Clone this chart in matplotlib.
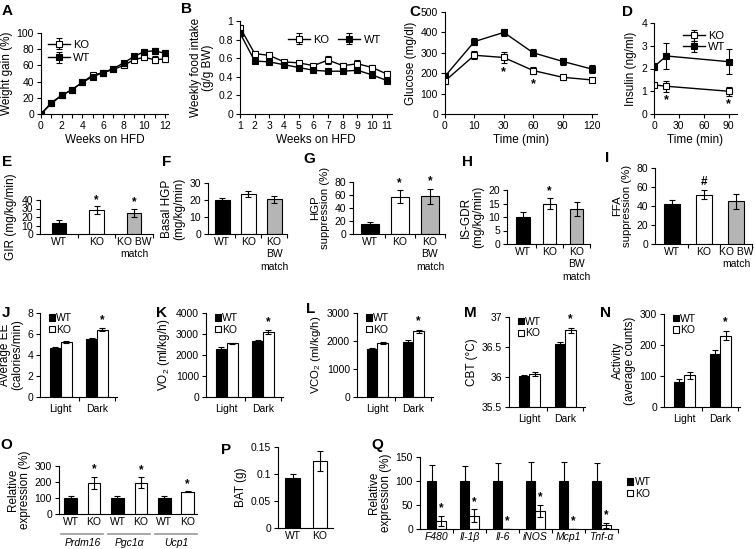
import numpy as np
import matplotlib
matplotlib.use("Agg")
import matplotlib.pyplot as plt
from matplotlib.transforms import blended_transform_factory

plt.rcParams['font.family'] = ['Liberation Sans', 'DejaVu Sans']
plt.rcParams['mathtext.fontset'] = 'custom'
plt.rcParams['mathtext.rm'] = 'Liberation Sans'
plt.rcParams['mathtext.it'] = 'Liberation Sans:italic'
plt.rcParams['axes.linewidth'] = 0.8
plt.rcParams['xtick.major.width'] = 0.8
plt.rcParams['ytick.major.width'] = 0.8
plt.rcParams['xtick.major.size'] = 3
plt.rcParams['ytick.major.size'] = 3
plt.rcParams['xtick.labelsize'] = 7.5
plt.rcParams['ytick.labelsize'] = 7.5
plt.rcParams['axes.labelsize'] = 8.5

# ---------------- data ----------------
# A: weight gain
weeks_a = list(range(13))
wg_ko = [0, 13, 23, 30, 39, 48, 51, 55, 60, 67, 70, 67, 68]
wg_ko_err = [0, 1.5, 1.5, 1.5, 2, 2, 2, 2, 2.5, 3, 3, 4, 4]
wg_wt = [0, 14, 23, 30, 39, 46, 51, 56, 63, 71, 77, 78, 75]
wg_wt_err = [0, 1.5, 1.5, 1.5, 2, 2, 2, 2, 2.5, 3, 3, 4, 4]

# B: weekly food intake
weeks_b = list(range(1, 12))
fi_ko = [0.93, 0.65, 0.63, 0.56, 0.55, 0.52, 0.58, 0.52, 0.54, 0.50, 0.43]
fi_ko_err = [0.03, 0.03, 0.03, 0.02, 0.02, 0.02, 0.04, 0.03, 0.04, 0.03, 0.03]
fi_wt = [0.87, 0.57, 0.56, 0.53, 0.50, 0.47, 0.46, 0.46, 0.47, 0.42, 0.36]
fi_wt_err = [0.03, 0.02, 0.02, 0.02, 0.02, 0.02, 0.02, 0.02, 0.02, 0.02, 0.02]

# C: glucose
time_c = ['0', '10', '30', '60', '90', '120']
glu_wt = [185, 355, 400, 300, 258, 220]
glu_wt_err = [15, 18, 18, 18, 18, 18]
glu_ko = [162, 288, 277, 213, 180, 167]
glu_ko_err = [12, 20, 25, 18, 12, 8]
glu_star = [False, False, True, True, False, False]

# D: insulin
time_d = [0, 15, 90]
ins_wt = [2.08, 2.55, 2.30]
ins_wt_err = [0.15, 0.55, 0.55]
ins_ko = [1.28, 1.22, 1.00]
ins_ko_err = [0.10, 0.25, 0.20]
ins_star = [False, True, True]

# E-I
groups3 = ['WT', 'KO', 'KO BW\nmatch']
groups3v = ['WT', 'KO', 'KO\nBW\nmatch']
gir = [12.5, 28, 25]; gir_err = [3.5, 4.5, 4.5]
hgp = [20, 23.5, 20.5]; hgp_err = [1, 2, 2]
hgps = [15, 57, 58]; hgps_err = [4, 10, 12]
isgdr = [10, 15, 13]; isgdr_err = [2, 2, 2.5]
ffa = [42, 52, 45]; ffa_err = [4, 5, 8]

# J-N
periods = ['Light', 'Dark']
ee_wt = [4.7, 5.5]; ee_wt_err = [0.1, 0.15]
ee_ko = [5.25, 6.4]; ee_ko_err = [0.12, 0.15]
vo2_wt = [2300, 2650]; vo2_wt_err = [60, 70]
vo2_ko = [2550, 3100]; vo2_ko_err = [40, 80]
vco2_wt = [1700, 1980]; vco2_wt_err = [60, 50]
vco2_ko = [1930, 2340]; vco2_ko_err = [40, 50]
cbt_wt = [36.01, 36.55]; cbt_wt_err = [0.02, 0.03]
cbt_ko = [36.05, 36.78]; cbt_ko_err = [0.03, 0.04]
act_wt = [80, 170]; act_wt_err = [10, 15]
act_ko = [102, 230]; act_ko_err = [12, 15]

# O
genes_o = ['Prdm16', 'Pgc1α', 'Ucp1']
o_wt = [100, 100, 100]; o_wt_err = [12, 10, 12]
o_ko = [195, 195, 140]; o_ko_err = [38, 35, 3]

# P
bat_groups = ['WT', 'KO']
bat = [0.093, 0.124]; bat_err = [0.007, 0.018]

# Q
genes_q = ['F480', 'Il-1β', 'Il-6', 'iNOS', 'Mcp1', 'Tnf-α']
q_wt = [100, 100, 100, 100, 100, 100]
q_wt_err = [33, 32, 37, 40, 40, 37]
q_ko = [17, 28, 1, 38, 1, 8]
q_ko_err = [11, 13, 0, 12, 0, 5]

# ---------------- layout ----------------
W, H = 755, 549
fig = plt.figure(figsize=(W / 100, H / 100), dpi=100)
fig.patch.set_facecolor('white')


def box(l, t, r, b):
    ax = fig.add_axes([l / W, 1 - b / H, (r - l) / W, (b - t) / H])
    ax.spines['top'].set_visible(False)
    ax.spines['right'].set_visible(False)
    ax.tick_params(direction='out', pad=2)
    return ax


def letter(x, y, s):
    fig.text(x / W, 1 - y / H, s, fontsize=11, fontweight='bold', va='top', ha='left')


GRAY = '#b5b5b5'
ekw = dict(elinewidth=0.8, capthick=0.8, ecolor='black')


def line_series(ax, x, y, e, face):
    return ax.errorbar(x, y, yerr=e, color='black', lw=1, marker='s', ms=4.5,
                       mfc=face, mec='black', mew=0.8, capsize=2.5, **ekw)


def between_ticks(ax, n):
    ax.set_xticks(np.arange(n) + 0.5, minor=True)
    ax.tick_params(axis='x', which='minor', length=3, width=0.8, direction='out')
    ax.tick_params(axis='x', which='major', length=0)

# A
ax = box(41, 33, 168, 114)
ka = line_series(ax, weeks_a, wg_ko, wg_ko_err, 'white')
wa = line_series(ax, weeks_a, wg_wt, wg_wt_err, 'black')
ax.set_xlim(0, 12.3); ax.set_ylim(0, 100)
ax.set_xticks(range(13)); ax.set_xticklabels([str(w) if w % 2 == 0 else '' for w in weeks_a])
ax.set_yticks(range(0, 101, 20))
ax.set_xlabel('Weeks on HFD', labelpad=2); ax.set_ylabel('Weight gain (%)', labelpad=3)
ax.legend([ka, wa], ['KO', 'WT'], loc='upper left', frameon=False, fontsize=8,
          handlelength=2, borderaxespad=0.2, handletextpad=0.3, labelspacing=0.3)
letter(2, 4, 'A')

# B
ax = box(240, 21, 392, 114)
kb = line_series(ax, weeks_b, fi_ko, fi_ko_err, 'white')
wb = line_series(ax, weeks_b, fi_wt, fi_wt_err, 'black')
ax.set_xlim(1, 11.35); ax.set_ylim(0, 1)
ax.set_xticks(weeks_b)
ax.set_yticks([0, 0.2, 0.4, 0.6, 0.8, 1]); ax.set_yticklabels(['0', '0.2', '0.4', '0.6', '0.8', '1'])
ax.set_xlabel('Weeks on HFD', labelpad=2); ax.set_ylabel('Weekly food intake\n(g/g BW)', labelpad=3, linespacing=1.0)
ax.legend([kb, wb], ['KO', 'WT'], loc='center', bbox_to_anchor=(0.62, 0.8), ncol=2, frameon=False,
          fontsize=8, handlelength=2, handletextpad=0.3, columnspacing=0.8)
letter(181, 2, 'B')

# C
ax = box(445, 12, 597, 114)
xc = np.arange(len(time_c))
line_series(ax, xc, glu_wt, glu_wt_err, 'black')
line_series(ax, xc, glu_ko, glu_ko_err, 'white')
for xi, v, e, s in zip(xc, glu_ko, glu_ko_err, glu_star):
    if s:
        ax.text(xi, v - e - 18, '*', ha='center', va='top', fontsize=9, fontweight='bold')
ax.set_xlim(0, 5.17); ax.set_ylim(0, 500)
ax.set_xticks(xc); ax.set_xticklabels(time_c)
ax.set_yticks(range(0, 501, 100))
ax.set_xlabel('Time (min)', labelpad=2); ax.set_ylabel('Glucose (mg/dl)', labelpad=3)
letter(409, 5, 'C')

# D
ax = box(654, 23, 737, 114)
kd = line_series(ax, time_d, ins_ko, ins_ko_err, 'white')
wd = line_series(ax, time_d, ins_wt, ins_wt_err, 'black')
for xi, v, e, s in zip(time_d, ins_ko, ins_ko_err, ins_star):
    if s:
        ax.text(xi, v - e - 0.1, '*', ha='center', va='top', fontsize=9, fontweight='bold')
ax.set_xlim(0, 100); ax.set_ylim(0, 4)
ax.set_xticks([0, 30, 60, 90]); ax.set_yticks(range(5))
ax.set_xlabel('Time (min)', labelpad=2); ax.set_ylabel('Insulin (ng/ml)', labelpad=3)
ax.legend([kd, wd], ['KO', 'WT'], loc='upper right', bbox_to_anchor=(0.98, 1.02), frameon=False,
          fontsize=8, handlelength=2, handletextpad=0.3, labelspacing=0.1)
letter(622, 5, 'D')


def bar3(ax, vals, errs, labels, width, stars=(), star_char='*'):
    x = np.arange(len(vals))
    ax.bar(x, vals, width, yerr=errs, color=['black', 'white', GRAY], edgecolor='black',
           linewidth=0.8, capsize=2.5, error_kw=ekw)
    ax.set_xticks(x); ax.set_xticklabels(labels, linespacing=1.3)
    between_ticks(ax, len(vals))
    top = ax.get_ylim()[1]
    for i in stars:
        ax.text(x[i], vals[i] + errs[i] + top * 0.02, star_char, ha='center', va='bottom',
                fontsize=8.5, fontweight='bold')
    return x

# E
ax = box(40, 200, 153, 234)
ax.set_ylim(0, 40); ax.set_yticks(range(0, 41, 10)); ax.set_xlim(-0.5, 2.5)
bar3(ax, gir, gir_err, groups3, 0.38, stars=[1, 2])
ax.set_ylabel('GIR (mg/kg/min)', labelpad=3)
letter(2, 155, 'E')

# F
ax = box(208, 183, 287, 234)
ax.set_ylim(0, 30); ax.set_yticks(range(0, 31, 10)); ax.set_xlim(-0.55, 2.5)
bar3(ax, hgp, hgp_err, groups3v, 0.58)
ax.set_ylabel('Basal HGP\n(mg/kg/min)', labelpad=3, linespacing=1.0)
letter(162, 155, 'F')

# G
ax = box(353, 182, 445, 234)
ax.set_ylim(0, 80); ax.set_yticks(range(0, 81, 20)); ax.set_xlim(-0.55, 2.5)
bar3(ax, hgps, hgps_err, groups3v, 0.6, stars=[1, 2])
ax.set_ylabel('HGP\nsuppression (%)', labelpad=3, linespacing=1.0, fontsize=8.2)
letter(303, 152, 'G')

# H
ax = box(507, 190, 590, 244)
ax.set_ylim(0, 20); ax.set_yticks(range(0, 21, 5)); ax.set_xlim(-0.59, 2.5)
bar3(ax, isgdr, isgdr_err, groups3v, 0.5, stars=[1])
ax.set_ylabel('IS-GDR\n(mg/kg/min)', labelpad=3, linespacing=1.0)
letter(462, 155, 'H')

# I
ax = box(655, 168, 752, 244)
ax.set_ylim(0, 80); ax.set_yticks(range(0, 81, 20)); ax.set_xlim(-0.52, 2.5)
bar3(ax, ffa, ffa_err, groups3, 0.51, stars=[1], star_char='#')
ax.set_ylabel('FFA\nsuppression (%)', labelpad=3, linespacing=1.0, fontsize=8.2)
letter(605, 151, 'I')


def bar2(ax, wt, wte, ko, koe, ylim, yticks, ylabel, star_dark=True, fmt=None, lsize=8.5):
    x = np.arange(len(periods))
    w = 0.3
    ax.set_ylim(*ylim)
    b1 = ax.bar(x - w / 2, np.array(wt) - ylim[0], w, bottom=ylim[0], yerr=wte, color='black',
                edgecolor='black', linewidth=0.8, capsize=2, error_kw=ekw)
    b2 = ax.bar(x + w / 2, np.array(ko) - ylim[0], w, bottom=ylim[0], yerr=koe, color='white',
                edgecolor='black', linewidth=0.8, capsize=2, error_kw=ekw)
    ax.set_xlim(-0.57, 1.55)
    ax.set_xticks([0.5, 1.5]); ax.set_xticklabels([])
    for xi, p in zip(x, periods):
        ax.text(xi, -0.08, p, transform=blended_transform_factory(ax.transData, ax.transAxes),
                ha='center', va='top', fontsize=7.5)
    ax.set_yticks(yticks)
    if fmt:
        ax.set_yticklabels([fmt(t) for t in yticks])
    span = ylim[1] - ylim[0]
    if star_dark:
        ax.text(1 + w / 2, ko[1] + koe[1] + span * 0.03, '*', ha='center', va='bottom',
                fontsize=8.5, fontweight='bold')
    ax.set_ylabel(ylabel, labelpad=3, linespacing=1.0, fontsize=lsize)
    ax.legend([b1, b2], ['WT', 'KO'], loc='upper left', bbox_to_anchor=(0.05, 1.06), frameon=False,
              fontsize=7.5, handlelength=0.55, handleheight=0.55, handletextpad=0.15,
              labelspacing=0.15, borderaxespad=0.1)

ax = box(40, 313, 117, 397)
bar2(ax, ee_wt, ee_wt_err, ee_ko, ee_ko_err, (0, 8), range(0, 9, 2), 'Average EE\n(calories/min)')
letter(2, 306, 'J')

ax = box(206, 313, 283, 397)
bar2(ax, vo2_wt, vo2_wt_err, vo2_ko, vo2_ko_err, (0, 4000), range(0, 4001, 1000), 'VO$_2$ (ml/kg/h)')
letter(156, 306, 'K')

ax = box(357, 313, 433, 397)
bar2(ax, vco2_wt, vco2_wt_err, vco2_ko, vco2_ko_err, (0, 3000), range(0, 3001, 1000), 'VCO$_2$ (ml/kg/h)',
     lsize=8.2)
letter(306, 302, 'L')

ax = box(509, 317, 585, 407)
bar2(ax, cbt_wt, cbt_wt_err, cbt_ko, cbt_ko_err, (35.5, 37), [35.5, 36, 36.5, 37], 'CBT (°C)',
     fmt=lambda t: ('%g' % t))
letter(464, 306, 'M')

ax = box(664, 314, 740, 407)
bar2(ax, act_wt, act_wt_err, act_ko, act_ko_err, (0, 300), range(0, 301, 100), 'Activity\n(average counts)')
letter(600, 306, 'N')

# O
ax = box(59, 466, 197, 514)
xo = np.arange(len(genes_o))
ax.set_ylim(0, 300); ax.set_xlim(-0.5, 2.45)
ax.bar(xo - 0.25, o_wt, 0.27, yerr=o_wt_err, color='black', edgecolor='black', lw=0.8,
       capsize=2.5, error_kw=ekw)
ax.bar(xo + 0.25, o_ko, 0.27, yerr=o_ko_err, color='white', edgecolor='black', lw=0.8,
       capsize=2.5, error_kw=ekw)
for xi, v, e in zip(xo, o_ko, o_ko_err):
    ax.text(xi + 0.25, v + e + 8, '*', ha='center', va='bottom', fontsize=8.5, fontweight='bold')
ax.set_yticks(range(0, 301, 100))
ax.set_xticks(np.concatenate([xo - 0.25, xo + 0.25]))
ax.set_xticklabels(['WT'] * 3 + ['KO'] * 3)
ax.tick_params(axis='x', length=0)
tr = blended_transform_factory(ax.transData, ax.transAxes)
for xi, g in zip(xo, genes_o):
    ax.plot([xi - 0.45, xi + 0.45], [-0.42, -0.42], color='#999999', lw=1.2, transform=tr, clip_on=False)
    ax.text(xi, -0.5, g, transform=tr, ha='center', va='top', fontsize=7.5, style='italic')
ax.set_ylabel('Relative\nexpression (%)', labelpad=3, linespacing=1.0)
letter(0, 438, 'O')

# P
ax = box(278, 447, 333, 528)
xp = np.arange(len(bat_groups))
ax.set_ylim(0, 0.15); ax.set_xlim(-0.55, 1.48)
ax.bar(xp, bat, 0.55, yerr=bat_err, color=['black', 'white'], edgecolor='black', lw=0.8,
       capsize=2.5, error_kw=ekw)
ax.set_yticks([0, 0.05, 0.1, 0.15]); ax.set_yticklabels(['0', '0.05', '0.1', '0.15'])
ax.set_xticks(xp); ax.set_xticklabels(bat_groups); ax.tick_params(axis='x', length=0)
ax.set_ylabel('BAT (g)', labelpad=3)
letter(221, 443, 'P')

# Q
ax = box(420, 457, 618, 529)
xq = np.arange(len(genes_q))
ax.set_ylim(0, 150); ax.set_xlim(-0.5, 5.5)
bq1 = ax.bar(xq - 0.15, q_wt, 0.3, yerr=q_wt_err, color='black', edgecolor='black', lw=0.8,
             capsize=2.5, error_kw=ekw)
bq2 = ax.bar(xq + 0.15, q_ko, 0.3, yerr=q_ko_err, color='white', edgecolor='black', lw=0.8,
             capsize=2.5, error_kw=ekw)
for xi, v, e in zip(xq, q_ko, q_ko_err):
    ax.text(xi + 0.15, v + e + 3, '*', ha='center', va='bottom', fontsize=8.5, fontweight='bold')
ax.set_yticks(range(0, 151, 50))
ax.set_xticks(xq); ax.set_xticklabels(genes_q, style='italic')
between_ticks(ax, len(genes_q))
ax.set_ylabel('Relative\nexpression (%)', labelpad=3, linespacing=1.0)
ax.legend([bq1, bq2], ['WT', 'KO'], loc='upper left', bbox_to_anchor=(1.0, 0.85), frameon=False,
          fontsize=7.5, handlelength=0.55, handleheight=0.55, handletextpad=0.15, labelspacing=0.15)
letter(371, 438, 'Q')

fig.savefig('out.png', dpi=100)
